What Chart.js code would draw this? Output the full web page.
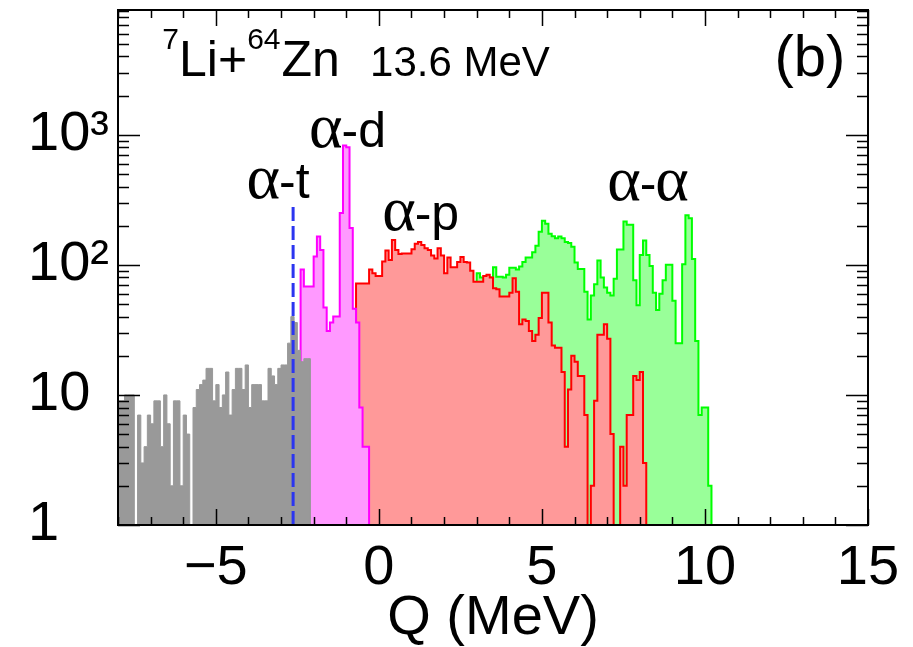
<!DOCTYPE html>
<html>
<head>
<meta charset="utf-8">
<script src="https://cdn.jsdelivr.net/npm/chart.js@4.4.0/dist/chart.umd.min.js"></script>
<style>
  html, body { margin: 0; padding: 0; background: #fff; }
</style>
</head>
<body>
<canvas id="chart" width="913" height="647"></canvas>
<script>
// histogram bin width (MeV)
const binWidth = 0.1;

// gray: events below the alpha-d gate, bins start at -8.0 MeV
const grayStart = -8.0;
const grayCounts = [
  9, 9, 9, 10, 10, 10, 0, 7, 3, 4,
  7, 6, 9, 9, 4, 10, 6, 2, 9, 9,
  2, 7, 5, 0, 8, 11, 12, 13, 16, 16,
  9, 12, 8, 10, 15, 7, 11, 16, 16, 11,
  17, 8, 12, 12, 12, 9, 9, 16, 14, 12,
  16, 17, 17, 25, 40, 36, 22, 18, 19, 19
];

// alpha-d (magenta), bins start at -2.4 MeV
const alphaDStart = -2.4;
const alphaDCounts = [
  51, 92, 68, 68, 68, 116, 165, 130, 47, 31,
  36, 40, 40, 250, 828, 800, 192, 46, 36, 8,
  4, 4
];

// alpha-p (red), bins start at -0.7 MeV
const alphaPStart = -0.7;
const alphaPCounts = [
  48, 72, 72, 72, 72, 92, 86, 82, 82, 106,
  129, 109, 155, 130, 121, 122, 122, 122, 132, 145,
  150, 142, 134, 130, 118, 112, 134, 118, 86, 114,
  96, 96, 105, 115, 105, 104, 90, 74, 74, 74,
  82, 84, 80, 66, 65, 57, 57, 57, 61, 79,
  62, 35, 38, 37, 31, 26, 29, 39, 61, 61,
  36, 24, 23, 23, 15, 4, 11, 20, 18, 14,
  14, 7, 0, 2, 9, 29, 29, 35, 27, 5,
  0, 0, 4, 2, 7, 7, 14, 13, 15, 3
];

// alpha-alpha (green), bins start at 3.0 MeV
const alphaAStart = 3.0;
const alphaACounts = [
  70, 86, 80, 80, 80, 80, 96, 81, 81, 80,
  84, 95, 95, 92, 97, 105, 114, 114, 125, 140,
  180, 218, 207, 173, 166, 160, 165, 160, 150, 147,
  138, 104, 93, 93, 62, 38, 58, 71, 108, 80,
  67, 61, 58, 78, 131, 131, 215, 203, 203, 76,
  49, 119, 154, 119, 98, 61, 45, 60, 76, 100,
  100, 53, 25, 25, 101, 241, 228, 111, 26, 7,
  8, 8, 2
];

// alpha-t threshold marker
const alphaTQ = -2.63;
const alphaTTop = 290;

// axes
const xTicks = [-5, 0, 5, 10, 15];
const yTicks = [1, 10, 100, 1000];
const yTickLabels = ['1', '10', '10\u00b2', '10\u00b3'];

// empty bins sit below the log axis
const logFloor = 0.5;

function histPoints(start, counts) {
  const pts = [{ x: start, y: logFloor }];
  counts.forEach((c, i) => {
    pts.push({ x: +(start + i * binWidth).toFixed(3), y: c > 0 ? c : logFloor });
  });
  pts.push({ x: +(start + counts.length * binWidth).toFixed(3), y: logFloor });
  return pts;
}

function histSet(label, start, counts, fillColor, lineColor, width) {
  return {
    label: label,
    data: histPoints(start, counts),
    stepped: 'after',
    fill: 'start',
    backgroundColor: fillColor,
    borderColor: lineColor,
    borderWidth: width,
    pointRadius: 0,
    tension: 0
  };
}

const SANS = '"Liberation Sans", Arial, Helvetica, sans-serif';
const SERIF = '"Liberation Serif", "Times New Roman", serif';

// draw a run of text pieces one after another
function drawRun(ctx, parts, x0, base) {
  let px = x0;
  parts.forEach(p => {
    ctx.font = p.font;
    ctx.fillText(p.t, px, base + (p.dy || 0));
    px += ctx.measureText(p.t).width + (p.gap || 0);
  });
}

// ROOT-like frame with ticks on all four sides
const frameTicks = {
  id: 'frameTicks',
  afterDatasetsDraw(chart) {
    const { ctx, chartArea: a, scales: { x, y } } = chart;
    ctx.save();
    ctx.strokeStyle = '#000';
    ctx.lineWidth = 1.5;
    ctx.beginPath();
    for (let v = Math.ceil(x.min); v <= x.max; v++) {
      const px = Math.round(x.getPixelForValue(v)) + 0.5;
      const len = v % 5 === 0 ? 16 : 8;
      ctx.moveTo(px, a.bottom); ctx.lineTo(px, a.bottom - len);
      ctx.moveTo(px, a.top); ctx.lineTo(px, a.top + len);
    }
    for (let dec = 1; dec <= 1000; dec *= 10) {
      for (let m = 1; m <= 9; m++) {
        const v = dec * m;
        if (v > y.max) break;
        const py = Math.round(y.getPixelForValue(v)) + 0.5;
        const len = m === 1 ? 22 : 11;
        ctx.moveTo(a.left, py); ctx.lineTo(a.left + len, py);
        ctx.moveTo(a.right, py); ctx.lineTo(a.right - len, py);
      }
    }
    ctx.stroke();
    ctx.lineWidth = 2;
    ctx.strokeRect(a.left, a.top, a.right - a.left, a.bottom - a.top);
    ctx.restore();
  }
};

// reaction text and peak labels
const annotations = {
  id: 'annotations',
  afterDraw(chart) {
    const { ctx, scales: { x, y } } = chart;
    ctx.save();
    ctx.fillStyle = '#000';
    ctx.textBaseline = 'alphabetic';
    ctx.textAlign = 'left';

    const base = y.getPixelForValue(2844);
    drawRun(ctx, [
      { t: '7', font: '30px ' + SANS, dy: -27, gap: 0 },
      { t: 'Li+', font: '50px ' + SANS },
      { t: '64', font: '30px ' + SANS, dy: -27, gap: 1 },
      { t: 'Zn', font: '50px ' + SANS }
    ], x.getPixelForValue(-6.64), base);
    drawRun(ctx, [{ t: '13.6 MeV', font: '42px ' + SANS }], x.getPixelForValue(-0.27), base);
    drawRun(ctx, [{ t: '(b)', font: '58px ' + SANS }], x.getPixelForValue(12.13), base);

    const peaks = [
      { q: -2.14, v: 809, tail: '-d' },
      { q: -4.06, v: 328, tail: '-t' },
      { q: 0.10, v: 186, tail: '-p' },
      { q: 7.0, v: 316, tail: '-\u03b1', tailSerif: true }
    ];
    peaks.forEach(p => {
      const parts = [{ t: '\u03b1', font: '64px ' + SERIF, gap: -1 }];
      if (p.tailSerif) {
        parts.push({ t: '-', font: '50px ' + SANS, gap: -1 });
        parts.push({ t: '\u03b1', font: '64px ' + SERIF });
      } else {
        parts.push({ t: p.tail, font: '50px ' + SANS });
      }
      drawRun(ctx, parts, x.getPixelForValue(p.q), y.getPixelForValue(p.v));
    });
    ctx.restore();
  }
};

Chart.defaults.font.family = SANS;
Chart.defaults.color = '#000';

new Chart(document.getElementById('chart').getContext('2d'), {
  type: 'line',
  data: {
    datasets: [
      {
        label: 'alpha-t',
        data: [{ x: alphaTQ, y: 1 }, { x: alphaTQ, y: alphaTTop }],
        borderColor: '#2b35f0',
        borderWidth: 3,
        borderDash: [14, 5],
        pointRadius: 0,
        fill: false
      },
      histSet('other', grayStart, grayCounts, '#999999', '#999999', 1),
      histSet('alpha-d', alphaDStart, alphaDCounts, '#ff99ff', '#ff00ff', 2),
      histSet('alpha-p', alphaPStart, alphaPCounts, '#ff9999', '#ff0000', 2),
      histSet('alpha-alpha', alphaAStart, alphaACounts, '#99ff99', '#00ff00', 2)
    ]
  },
  options: {
    responsive: false,
    animation: false,
    devicePixelRatio: 1,
    layout: { padding: { top: 10, right: 45, left: 28, bottom: 0 } },
    plugins: { legend: { display: false }, tooltip: { enabled: false } },
    scales: {
      x: {
        type: 'linear',
        min: -8,
        max: 15,
        grid: { display: false, drawTicks: false },
        border: { display: false },
        afterBuildTicks: s => { s.ticks = xTicks.map(v => ({ value: v })); },
        afterFit: s => { s.height = 122; s.paddingLeft = 0; s.paddingRight = 0; },
        ticks: {
          font: { size: 56 },
          padding: 10,
          maxRotation: 0,
          autoSkip: false,
          callback: v => (v < 0 ? '\u2212' + Math.abs(v) : String(v))
        },
        title: {
          display: true,
          text: 'Q (MeV)',
          font: { size: 56, lineHeight: 1.0 },
          padding: { top: 0, bottom: 0 }
        }
      },
      y: {
        type: 'logarithmic',
        min: 1,
        max: 9100,
        grid: { display: false, drawTicks: false },
        border: { display: false },
        afterBuildTicks: s => { s.ticks = yTicks.map(v => ({ value: v })); },
        afterFit: s => { s.width = 90; s.paddingTop = 0; s.paddingBottom = 0; },
        ticks: {
          font: { size: 56 },
          crossAlign: 'far',
          autoSkip: false,
          callback: v => yTickLabels[yTicks.indexOf(v)]
        }
      }
    }
  },
  plugins: [frameTicks, annotations]
});
</script>
</body>
</html>
